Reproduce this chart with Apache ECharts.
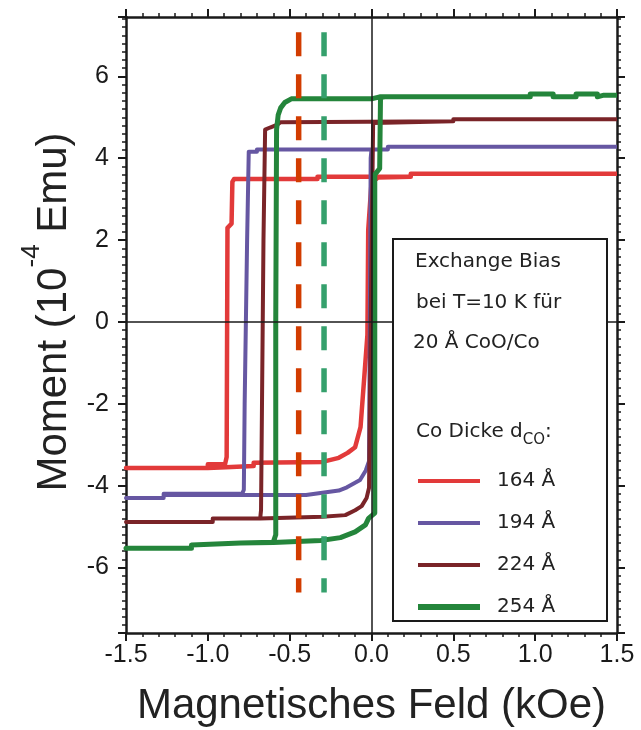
<!DOCTYPE html>
<html><head><meta charset="utf-8">
<script src="https://cdn.jsdelivr.net/npm/echarts/dist/echarts.min.js"></script>
<style>html,body{margin:0;padding:0;background:#fff}#c{width:641px;height:730px}</style>
</head><body><div id="c"></div>
<script>
// ---- data (field in kOe, moment in 1e-4 emu) ----
const xRange = [-1.5, 1.5];
const yRange = [-7.6, 7.45];
const xTickStep = 0.5;
const seriesNames = ['164 Å', '194 Å', '224 Å', '254 Å'];
const loop164 = [
  [1.5, 3.62], [0.24, 3.62], [0.24, 3.55], [-0.33, 3.55], [-0.33, 3.49], [-0.84, 3.49],
  [-0.85, 3.42], [-0.855, 2.4], [-0.88, 2.3], [-0.885, -3.3], [-0.895, -3.48], [-1.0, -3.48],
  [-1.0, -3.57], [-1.5, -3.57],
  [-1.0, -3.57], [-0.89, -3.55], [-0.72, -3.52], [-0.72, -3.44], [-0.3, -3.42], [-0.2, -3.32],
  [-0.146, -3.2], [-0.1, -3.06], [-0.067, -2.57], [-0.05, -1.66], [-0.025, -0.32], [-0.02, 2.25],
  [0.0, 3.4], [0.04, 3.53], [0.24, 3.55]
];
const loop194 = [
  [1.5, 4.28], [0.1, 4.28], [0.1, 4.21], [-0.7, 4.21], [-0.7, 4.16], [-0.75, 4.16],
  [-0.76, 2.0], [-0.775, -2.0], [-0.78, -4.1], [-0.79, -4.2], [-1.27, -4.2], [-1.27, -4.3],
  [-1.5, -4.3],
  [-1.27, -4.3], [-1.27, -4.22], [-0.4, -4.23], [-0.2, -4.12], [-0.15, -4.04], [-0.07, -3.86],
  [-0.035, -3.63], [-0.015, -3.4], [-0.01, 0.0], [-0.005, 4.0], [0.0, 4.21], [0.1, 4.21]
];
const loop224 = [
  [1.5, 4.95], [0.5, 4.95], [0.5, 4.9], [-0.555, 4.88], [-0.575, 4.82], [-0.62, 4.75],
  [-0.65, 4.7], [-0.66, 2.0], [-0.675, -4.6], [-0.68, -4.8], [-0.97, -4.8], [-0.97, -4.89],
  [-1.5, -4.89],
  [-0.97, -4.89], [-0.97, -4.8], [-0.68, -4.8], [-0.3, -4.76], [-0.16, -4.72], [-0.1, -4.6],
  [-0.06, -4.5], [-0.03, -4.3], [-0.015, -4.05], [-0.005, 0.0], [0.01, 4.86], [0.5, 4.9]
];
const loop254 = [
  [1.5, 5.54], [1.42, 5.54], [1.42, 5.5], [1.38, 5.5], [1.38, 5.57], [1.25, 5.57], [1.25, 5.5],
  [1.11, 5.5], [1.11, 5.57], [0.97, 5.57], [0.97, 5.5], [0.05, 5.5], [0.0, 5.45], [-0.49, 5.45],
  [-0.53, 5.36], [-0.555, 5.23], [-0.57, 5.06], [-0.58, 4.7], [-0.585, 0.0], [-0.585, -5.2],
  [-0.6, -5.38], [-0.8, -5.4], [-1.1, -5.45], [-1.1, -5.53], [-1.5, -5.53],
  [-1.1, -5.53], [-1.1, -5.45], [-0.8, -5.4], [-0.6, -5.39], [-0.31, -5.34], [-0.19, -5.27],
  [-0.1, -5.13], [-0.037, -4.96], [-0.018, -4.8], [0.02, -4.67], [0.02, 3.6], [0.05, 3.75],
  [0.055, 5.48], [0.08, 5.5]
];
const biasFields = [-0.445, -0.29];          // dashed exchange-bias markers (kOe)
const biasSpan = [7.08, -6.61];              // vertical extent of the dashed markers
const headerLines = ['Exchange Bias', 'bei T=10 K für', '20 Å CoO/Co', 'Co Dicke d{sub|CO}:'];

const colors = ['#e23a3a', '#6657a2', '#7a2428', '#24853b'];
const widths = [4.5, 4, 4, 5];
const legendIconH = [4, 4, 4, 6];
const dashColors = ['#d23c00', '#35a06c'];
const loops = [loop164, loop194, loop224, loop254];

const ink = '#1a1a1a';
const tickFont = 'Liberation Sans';

function axisCommon(showLabels, isX) {
  return {
    type: 'value',
    min: isX ? xRange[0] : yRange[0],
    max: isX ? xRange[1] : yRange[1],
    ...(isX ? { interval: xTickStep } : { splitNumber: 7 }),
    axisLine: { show: true, onZero: false, lineStyle: { color: ink, width: 2.5 } },
    axisTick: { show: true, inside: false, length: 8, lineStyle: { color: ink, width: 2 } },
    minorTick: { show: true, splitNumber: isX ? 5 : 10, length: 4, lineStyle: { color: ink, width: 1.5 } },
    splitLine: { show: false },
    minorSplitLine: { show: false },
    axisLabel: showLabels ? {
      show: true, fontFamily: tickFont, fontSize: 25, color: ink,
      margin: isX ? 10 : 17,
      showMinLabel: isX ? true : false, showMaxLabel: isX ? true : false,
      formatter: isX ? (v => v.toFixed(1)) : (v => (Math.abs(v % 2) < 1e-9 ? String(Math.round(v)) : ''))
    } : { show: false },
    nameMoveOverlap: false
  };
}

const series = loops.map((d, i) => ({
  name: seriesNames[i], type: 'line', data: d, symbol: 'none', showSymbol: false,
  lineStyle: { color: colors[i], width: widths[i], join: 'round' },
  itemStyle: { color: colors[i] }, z: 2, silent: true
}));
biasFields.forEach((bx, i) => {
  series.push({
    name: 'bias' + i, type: 'line', symbol: 'none', silent: true, z: 3,
    data: [[bx, biasSpan[0]], [bx, biasSpan[1]]],
    lineStyle: { color: dashColors[i], width: 5.5, type: [24, 18], cap: 'butt' }
  });
});
series.push({
  name: 'zero', type: 'line', data: [], symbol: 'none', silent: true, z: 4,
  markLine: {
    silent: true, symbol: 'none', animation: false, label: { show: false },
    lineStyle: { color: ink, width: 1.5, type: 'solid' },
    data: [{ xAxis: 0 }, { yAxis: 0 }]
  }
});

const chart = echarts.init(document.getElementById('c'), null, { renderer: 'canvas' });
chart.setOption({
  animation: false,
  backgroundColor: '#fff',
  grid: { left: 126, right: 24, top: 17, bottom: 97, containLabel: false, outerBoundsMode: 'none' },
  xAxis: [
    Object.assign(axisCommon(true, true), {
      position: 'bottom',
      name: 'Magnetisches Feld (kOe)', nameLocation: 'middle', nameGap: 52,
      nameTextStyle: { fontFamily: tickFont, fontSize: 42, lineHeight: 42, color: '#222' }
    }),
    Object.assign(axisCommon(false, true), { position: 'top' })
  ],
  yAxis: [
    Object.assign(axisCommon(true, false), {
      position: 'left',
      name: '{a|Moment (10}{b|-4}{a| Emu)}', nameLocation: 'middle', nameGap: 37,
      nameTextStyle: {
        fontFamily: tickFont, fontSize: 42, color: '#222', padding: [0, 0, 0, 26],
        rich: {
          a: { fontFamily: tickFont, fontSize: 42, lineHeight: 70, color: '#222' },
          b: { fontFamily: tickFont, fontSize: 26, lineHeight: 26, verticalAlign: 'top', color: '#222' }
        }
      }
    }),
    Object.assign(axisCommon(false, false), { position: 'right' })
  ],
  legend: {
    orient: 'vertical', left: 413, top: 466, itemGap: 22, itemWidth: 62, itemHeight: 20,
    selectedMode: false, z: 60,
    itemStyle: { borderWidth: 0 },
    textStyle: { fontFamily: 'DejaVu Sans', fontSize: 20, color: '#222', padding: [0, 0, 0, 12] },
    data: seriesNames.map((n, i) => ({ name: n, icon: 'path://M0,0H62V' + legendIconH[i] + 'H0Z' }))
  },
  graphic: [
    { type: 'rect', z: 50, shape: { x: 393, y: 239, width: 214, height: 382 },
      style: { fill: '#fff', stroke: ink, lineWidth: 2 } },
    { type: 'text', z: 51, x: 415, y: 262, style: { text: headerLines[0], fontFamily: 'DejaVu Sans', fontSize: 20, fill: '#222', verticalAlign: 'middle' } },
    { type: 'text', z: 51, x: 416, y: 303, style: { text: headerLines[1], fontFamily: 'DejaVu Sans', fontSize: 20, fill: '#222', verticalAlign: 'middle' } },
    { type: 'text', z: 51, x: 413, y: 343, style: { text: headerLines[2], fontFamily: 'DejaVu Sans', fontSize: 20, fill: '#222', verticalAlign: 'middle' } },
    { type: 'text', z: 51, x: 416, y: 432, style: {
        text: headerLines[3], fontFamily: 'DejaVu Sans', fontSize: 20, lineHeight: 32, fill: '#222', verticalAlign: 'middle',
        rich: { sub: { fontFamily: 'DejaVu Sans', fontSize: 15, lineHeight: 15, verticalAlign: 'bottom', fill: '#222' } }
      } }
  ],
  series: series
});
</script>
</body></html>
